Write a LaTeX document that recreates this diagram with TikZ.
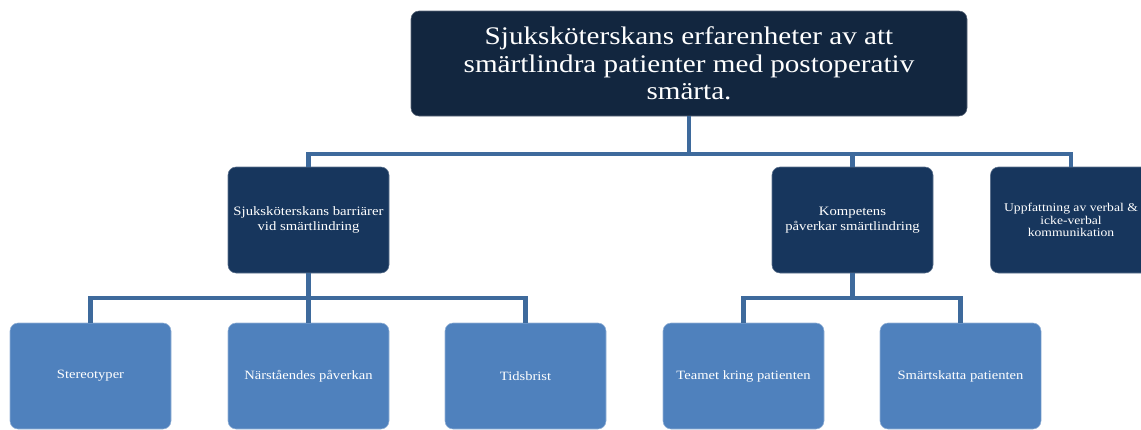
\documentclass[tikz,border=0pt]{standalone}
\usepackage{fontspec}
\setmainfont{Liberation Serif}[FakeStretch=1.15]
\usetikzlibrary{calc}
\definecolor{rootc}{HTML}{12263F}
\definecolor{midc}{HTML}{17365D}
\definecolor{leafc}{HTML}{4F81BD}
\definecolor{connc}{HTML}{3E6A9C}
\begin{document}
\begin{tikzpicture}[x=0.75pt,y=-0.75pt,
  box/.style={rectangle,rounded corners=6pt,minimum width=120.75pt,minimum height=79.5pt,
    text=white,align=center,inner sep=2pt,line width=0.4pt},
  rootbox/.style={box,fill=rootc,draw=rootc!70!white,minimum width=417pt,minimum height=78.75pt,
    font=\fontsize{19}{20.5}\selectfont},
  midbox/.style={box,fill=midc,draw=midc!70!white,font=\fontsize{9.6}{11.2}\selectfont},
  smallmid/.style={midbox,font=\fontsize{8.9}{9.6}\selectfont},
  leafbox/.style={box,fill=leafc,draw=leafc!60!white,font=\fontsize{9.5}{11}\selectfont},
  conn/.style={draw=connc,line width=3.2pt}]
\useasboundingbox (0,0) rectangle (1141,429);
\clip (0,0) rectangle (1141,429);
\node[rootbox] (root) at (689,63.5) {Sjuksköterskans erfarenheter av att\\smärtlindra patienter med postoperativ\\smärta.};
\node[midbox] (ma) at (308.5,220) {Sjuksköterskans barriärer\\vid smärtlindring};
\node[midbox] (mb) at (852.5,220) {Kompetens\\påverkar smärtlindring};
\node[smallmid] (mc) at (1071,220) {Uppfattning av verbal \&\\icke-verbal\\kommunikation};
\node[leafbox] (la) at (90.5,376) {Stereotyper};
\node[leafbox] (lb) at (308.5,376) {Närståendes påverkan};
\node[leafbox] (lc) at (525.5,376) {Tidsbrist};
\node[leafbox] (ld) at (743.5,376) {Teamet kring patienten};
\node[leafbox] (le) at (960.5,376) {Smärtskatta patienten};
\coordinate (b0) at (689,154);
\coordinate (b1) at (308.5,298);
\coordinate (b2) at (852.5,298);
\draw[conn] (root.south) -- (b0);
\draw[conn] (ma.north) |- (b0) -| (mc.north);
\draw[conn] (mb.north) -- (mb.north |- b0);
\draw[conn] (ma.south) -- (b1);
\draw[conn] (la.north) |- (b1) -| (lc.north);
\draw[conn] (lb.north) -- (lb.north |- b1);
\draw[conn] (mb.south) -- (b2);
\draw[conn] (ld.north) |- (b2) -| (le.north);
\end{tikzpicture}
\end{document}
